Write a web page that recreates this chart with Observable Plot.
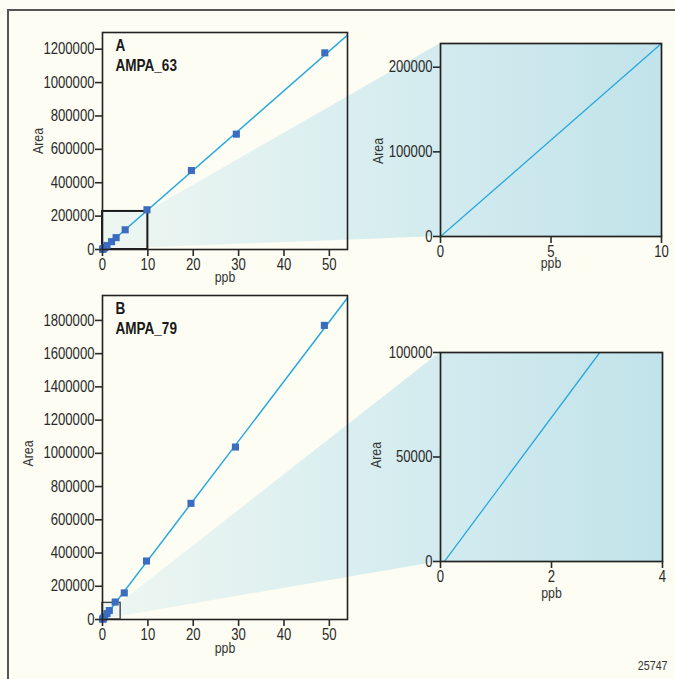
<!DOCTYPE html>
<html><head><meta charset="utf-8">
<script src="https://cdn.jsdelivr.net/npm/d3@7"></script>
<script src="https://cdn.jsdelivr.net/npm/@observablehq/plot@0.6"></script>
<style>
html,body{margin:0;padding:0;background:#fdfdf3;}
#fig{position:relative;width:675px;height:679px;overflow:hidden;background:#fdfdf3;}
#fig svg{position:absolute;}
</style></head><body><div id="fig"></div>
<script>
const FONT = "'Liberation Sans', Arial, sans-serif";
const CONDENSE = 0.82;

// ---- Panel A data ----
const concA = [0.05, 0.1, 0.25, 0.5, 1, 2, 3, 5, 9.8, 19.6, 29.5, 49];
const areaA = [1200, 2400, 6000, 12000, 24000, 47000, 71000, 118000, 238000, 473000, 691000, 1178000];
const lineAx = [0, 54];
const lineAy = [0, 1284000];
const zoomAx = [0, 10];
const zoomAy = [0, 228000];
const zoomLineAx = [0, 10];
const zoomLineAy = [0, 228000];
const ticksMainX = [0, 10, 20, 30, 40, 50];
const ticksAY = [0, 200000, 400000, 600000, 800000, 1000000, 1200000];
const ticksZoomAX = [0, 5, 10];
const ticksZoomAY = [0, 100000, 200000];
const letterA = "A";
const nameA = "AMPA_63";

// ---- Panel B data ----
const concB = [0.05, 0.1, 0.25, 0.5, 1, 1.5, 2.8, 4.8, 9.7, 19.5, 29.3, 48.9];
const areaB = [1800, 3500, 9000, 18000, 36000, 54000, 105000, 160000, 352000, 699000, 1038000, 1770000];
const lineBx = [0.07, 54];
const lineBy = [0, 1936000];
const zoomBx = [0, 4];
const zoomBy = [0, 100000];
const zoomLineBx = [0.07, 2.87];
const zoomLineBy = [0, 100000];
const ticksBY = [0, 200000, 400000, 600000, 800000, 1000000, 1200000, 1400000, 1600000, 1800000];
const ticksZoomBX = [0, 2, 4];
const ticksZoomBY = [0, 50000, 100000];
const letterB = "B";
const nameB = "AMPA_79";
const figureId = "25747";

const INK = "#222";
const LINE = "#29a8e0";
const DOT = "#3a6cc0";

const fig = document.getElementById("fig");

function axes(xt, yt) {
  return [
    Plot.axisX({ticks: xt, tickFormat: d => String(d), tickSize: 7, tickPadding: 2, fontSize: 16, color: "#2a2a2a", strokeWidth: 1.6, label: null}),
    Plot.axisY({ticks: yt, tickFormat: d => String(d), tickSize: 7, tickPadding: 1, fontSize: 16, color: "#2a2a2a", strokeWidth: 1.6, label: null})
  ];
}

function labels(o) {
  return [
    Plot.text(["ppb"], {text: d => d, frameAnchor: "bottom", dy: o.ppbDy, lineAnchor: "middle", textAnchor: "middle", fontSize: 15, fill: "#333"}),
    Plot.text(["Area"], {text: d => d, frameAnchor: "left", dx: o.areaDx, dy: o.areaDy || 0, rotate: -90, lineAnchor: "middle", textAnchor: "middle", fontSize: 15, fill: "#333"})
  ];
}

function makeMain(o) {
  const pts = o.conc.map((c, i) => ({x: c, y: o.area[i]}));
  const ln = o.lineX.map((x, i) => ({x, y: o.lineY[i]}));
  const zr = [{x1: o.zoomX[0], x2: o.zoomX[1], y1: o.zoomY[0], y2: o.zoomY[1]}];
  const p = Plot.plot({
    width: o.width, height: o.height,
    marginLeft: o.ml, marginRight: o.mr, marginTop: o.mt, marginBottom: o.mb,
    x: {domain: [0, 54]},
    y: {domain: [0, o.yMax]},
    style: {background: "transparent", fontFamily: FONT, fontSize: "16px", color: INK, overflow: "visible"},
    marks: [
      Plot.rect(zr, {x1: "x1", x2: "x2", y1: "y1", y2: "y2", fill: "none", stroke: o.zoomStroke, strokeWidth: o.zoomWidth}),
      Plot.line(ln, {x: "x", y: "y", stroke: LINE, strokeWidth: 1.5, clip: true}),
      Plot.dot(pts, {x: "x", y: "y", symbol: "square", r: 4, fill: DOT, stroke: "none"}),
      Plot.frame({stroke: INK, strokeWidth: 1.6}),
      ...axes(ticksMainX, o.yTicks),
      ...labels(o),
      Plot.text([o.letter], {text: d => d, frameAnchor: "top-left", dx: 13, dy: 7, lineAnchor: "top", textAnchor: "start", fontWeight: "bold", fontSize: 16.5, fill: "#1a1a1a"}),
      Plot.text([o.name], {text: d => d, frameAnchor: "top-left", dx: 13, dy: 27, lineAnchor: "top", textAnchor: "start", fontWeight: "bold", fontSize: 16.5, fill: "#1a1a1a"})
    ]
  });
  p.style.left = o.left + "px"; p.style.top = o.top + "px";
  return p;
}

function makeZoom(o) {
  const ln = o.lineX.map((x, i) => ({x, y: o.lineY[i]}));
  const extra = o.footer ? [Plot.text([o.footer], {text: d => d, frameAnchor: "bottom-right", dx: 5, dy: 108, textAnchor: "end", fontSize: 13, fill: "#333"})] : [];
  const p = Plot.plot({
    width: o.width, height: o.height,
    marginLeft: o.ml, marginRight: o.mr, marginTop: o.mt, marginBottom: o.mb,
    x: {domain: o.zoomX},
    y: {domain: o.zoomY},
    style: {background: "transparent", fontFamily: FONT, fontSize: "16px", color: INK, overflow: "visible"},
    marks: [
      Plot.line(ln, {x: "x", y: "y", stroke: LINE, strokeWidth: 1.3, clip: true}),
      Plot.frame({stroke: INK, strokeWidth: 1.7}),
      ...axes(o.xTicks, o.yTicks),
      ...labels(o),
      ...extra
    ]
  });
  p.style.left = o.left + "px"; p.style.top = o.top + "px";
  return p;
}

const mainA = makeMain({conc: concA, area: areaA, lineX: lineAx, lineY: lineAy, zoomX: zoomAx, zoomY: zoomAy,
  yMax: 1300000, yTicks: ticksAY, letter: letterA, name: nameA, width: 360, height: 290, ml: 102, mr: 13, mt: 32, mb: 41,
  left: 0, top: 0, ppbDy: 28, areaDx: -64, areaDy: 0, zoomStroke: "#1a1a1a", zoomWidth: 2});
const mainB = makeMain({conc: concB, area: areaB, lineX: lineBx, lineY: lineBy, zoomX: zoomBx, zoomY: zoomBy,
  yMax: 1950000, yTicks: ticksBY, letter: letterB, name: nameB, width: 360, height: 389, ml: 102, mr: 13, mt: 5, mb: 60,
  left: 0, top: 290, ppbDy: 29, areaDx: -74, areaDy: -4, zoomStroke: "#444", zoomWidth: 1.4});
const zoomA = makeZoom({lineX: zoomLineAx, lineY: zoomLineAy, zoomX: zoomAx, zoomY: zoomAy, xTicks: ticksZoomAX, yTicks: ticksZoomAY,
  width: 335, height: 290, ml: 100, mr: 14, mt: 43, mb: 54, left: 340, top: 0, ppbDy: 27, areaDx: -62, areaDy: 11});
const zoomB = makeZoom({lineX: zoomLineBx, lineY: zoomLineBy, zoomX: zoomBx, zoomY: zoomBy, xTicks: ticksZoomBX, yTicks: ticksZoomBY,
  width: 335, height: 389, ml: 100, mr: 13, mt: 62, mb: 118, left: 340, top: 290, ppbDy: 32, areaDx: -64, areaDy: -2, footer: figureId});

// ---- background: outer frame, zoom cones, inset fills (positions from Plot scales) ----
function P(plot, left, top, xv, yv) {
  return [plot.scale("x").apply(xv) + left, plot.scale("y").apply(yv) + top];
}
function cone(main, mL, mT, zoom, zL, zT, zx, zy) {
  return [
    P(main, mL, mT, zx[0], zy[1]),
    P(main, mL, mT, zx[1], zy[1]),
    P(zoom, zL, zT, zx[0], zy[1]),
    P(zoom, zL, zT, zx[1], zy[1]),
    P(zoom, zL, zT, zx[1], zy[0]),
    P(zoom, zL, zT, zx[0], zy[0]),
    P(main, mL, mT, zx[0], zy[0])
  ];
}
const bg = d3.create("svg").attr("width", 675).attr("height", 679).style("left", "0px").style("top", "0px");
const defs = bg.append("defs");
const gx0 = mainA.scale("x").apply(0);
const gx1 = zoomA.scale("x").apply(10) + 340;
const grad = defs.append("linearGradient").attr("id", "cg").attr("gradientUnits", "userSpaceOnUse")
  .attr("x1", gx0).attr("x2", gx1).attr("y1", 0).attr("y2", 0);
[[0, "#eef6f1"], [0.3, "#e0f1f0"], [0.6, "#d3ebef"], [1, "#c1e3ea"]].forEach(([o, c]) =>
  grad.append("stop").attr("offset", o).attr("stop-color", c));
const line = d3.line();
bg.append("path").attr("d", line(cone(mainA, 0, 0, zoomA, 340, 0, zoomAx, zoomAy)) + "Z").attr("fill", "url(#cg)");
bg.append("path").attr("d", line(cone(mainB, 0, 290, zoomB, 340, 290, zoomBx, zoomBy)) + "Z").attr("fill", "url(#cg)");
bg.append("path").attr("d", "M8,679V10H675").attr("fill", "none").attr("stroke", "#555").attr("stroke-width", 2);

fig.appendChild(bg.node());
fig.appendChild(mainA);
fig.appendChild(mainB);
fig.appendChild(zoomA);
fig.appendChild(zoomB);

// condensed type (like the original's narrow face): squeeze each text horizontally
fig.querySelectorAll("svg text").forEach(t => {
  const w = t.getComputedTextLength();
  if (w > 0) {
    t.setAttribute("textLength", (w * CONDENSE).toFixed(2));
    t.setAttribute("lengthAdjust", "spacingAndGlyphs");
  }
});
</script></body></html>
